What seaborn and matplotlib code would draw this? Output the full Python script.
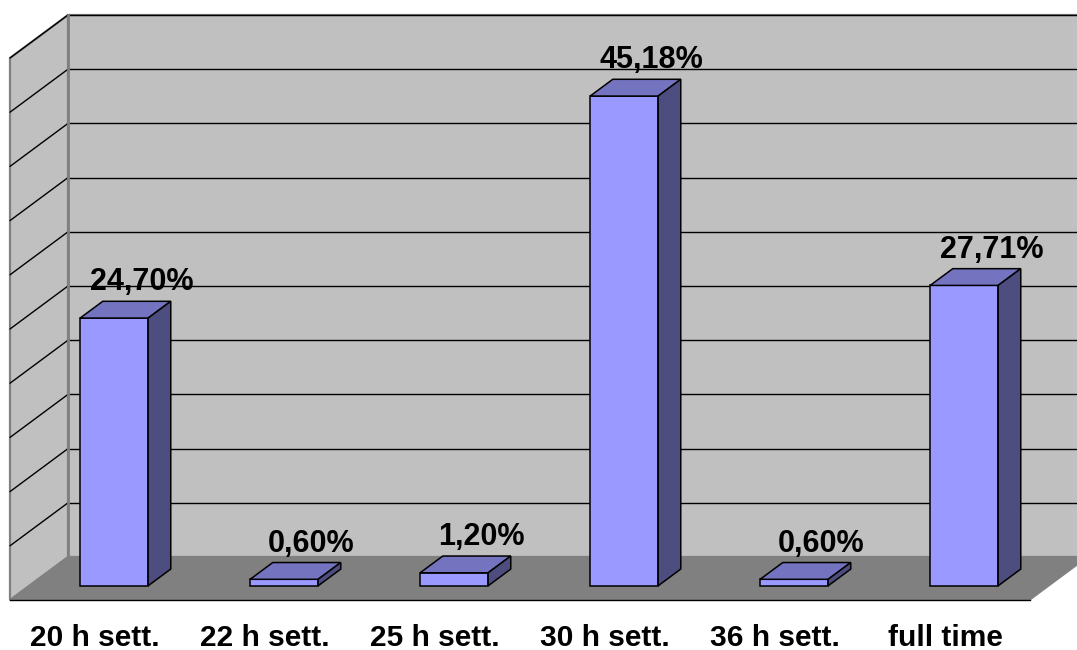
import matplotlib
matplotlib.use("Agg")
import matplotlib.pyplot as plt
from matplotlib.patches import Polygon
import seaborn as sns

# Data
categories = ["20 h sett.", "22 h sett.", "25 h sett.", "30 h sett.", "36 h sett.", "full time"]
values = [24.70, 0.60, 1.20, 45.18, 0.60, 27.71]
y_max = 50
grid_step = 5

# Colours
wall_color = "#C0C0C0"
floor_color = "#808080"
edge_gray = "#808080"
bar_front = "#9999FF"
bar_top = "#7373BF"
bar_side = "#4D4D80"

sns.set_style("white")
plt.rcParams["font.family"] = ["Liberation Sans", "DejaVu Sans"]
plt.rcParams["text.color"] = "black"
plt.rcParams["xtick.color"] = "black"
plt.rcParams["xtick.labelcolor"] = "black"

fig = plt.figure(figsize=(10.77, 6.5), dpi=100)
W, H = 1077, 650
# axes = front edge of the floor (depth 0)
ax = fig.add_axes([10 / W, 50 / H, 1020 / W, 542 / H])

# oblique depth vector in data units (categories, percent)
DX, DY = 58 / 170, 43 / 10.84
t_front, t_back = 0.33, 0.72

sns.barplot(x=categories, y=values, color=bar_front, width=0.4,
            edgecolor="black", linewidth=1.1, saturation=1, ax=ax, zorder=5)
bars = list(ax.containers[0])

ax.set_xlim(-0.5, 5.5)
ax.set_ylim(0, y_max)

x_left, x_right = -0.5, len(categories) - 0.5

# walls and floor
back_wall = Polygon([(x_left + DX, DY), (x_right + DX, DY), (x_right + DX, y_max + DY),
                     (x_left + DX, y_max + DY)], closed=True, facecolor=wall_color,
                    edgecolor=edge_gray, linewidth=1.6, clip_on=False, zorder=0)
side_wall = Polygon([(x_left, 0), (x_left + DX, DY), (x_left + DX, y_max + DY), (x_left, y_max)],
                    closed=True, facecolor=wall_color, edgecolor=edge_gray, linewidth=1.6,
                    clip_on=False, zorder=0)
floor = Polygon([(x_left, 0), (x_right, 0), (x_right + DX, DY), (x_left + DX, DY)],
                closed=True, facecolor=floor_color, edgecolor=floor_color, linewidth=0.8,
                clip_on=False, zorder=1)
for p in (back_wall, side_wall, floor):
    ax.add_patch(p)

# gridlines on the back and side walls
for v in range(grid_step, y_max + 1, grid_step):
    ax.plot([x_left + DX, x_right + DX], [v + DY, v + DY], color="black", lw=1.0,
            clip_on=False, zorder=2)
    ax.plot([x_left, x_left + DX], [v, v + DY], color="black", lw=1.0,
            clip_on=False, zorder=2)
ax.plot([x_left + DX, x_left + DX], [DY, y_max + DY], color=edge_gray, lw=2.0,
        clip_on=False, zorder=2)

# 3D bar faces
fx, fy = t_front * DX, t_front * DY
bdx, bdy = (t_back - t_front) * DX, (t_back - t_front) * DY
for bar, val in zip(bars, values):
    x0, w, h = bar.get_x(), bar.get_width(), bar.get_height()
    bar.set_x(x0 + fx)
    bar.set_y(fy)
    bar.set_clip_on(False)
    xa, xb = x0 + fx, x0 + fx + w
    top = Polygon([(xa, fy + h), (xb, fy + h), (xb + bdx, fy + h + bdy), (xa + bdx, fy + h + bdy)],
                  closed=True, facecolor=bar_top, edgecolor="black", linewidth=1.1,
                  clip_on=False, zorder=5)
    side = Polygon([(xb, fy), (xb + bdx, fy + bdy), (xb + bdx, fy + h + bdy), (xb, fy + h)],
                   closed=True, facecolor=bar_side, edgecolor="black", linewidth=1.1,
                   clip_on=False, zorder=5)
    ax.add_patch(top)
    ax.add_patch(side)
    label = f"{val:.2f}%".replace(".", ",")
    ax.text(x0 + w / 2 + fx + 0.16, fy + h + bdy + 1.0, label, ha="center", va="baseline",
            fontsize=22, fontweight="bold", color="black", zorder=6, clip_on=False)

# category axis along the front edge of the floor
for s in ("left", "right", "top"):
    ax.spines[s].set_visible(False)
ax.spines["bottom"].set_color("black")
ax.spines["bottom"].set_linewidth(1.0)
ax.spines["bottom"].set_zorder(3)
ax.set_yticks([])
ax.set_xticks(range(len(categories)))
ax.set_xticklabels(categories, fontsize=21.5, fontweight="bold", color="black")
ax.set_xticks([i - 0.5 for i in range(len(categories) + 1)], minor=True)
ax.tick_params(axis="x", which="major", length=0, pad=17)
ax.tick_params(axis="x", which="minor", length=6, width=1.0, color="black", direction="out")
ax.set_xlabel("")
ax.set_ylabel("")
ax.set_facecolor("none")

fig.savefig("out.png", dpi=100)
